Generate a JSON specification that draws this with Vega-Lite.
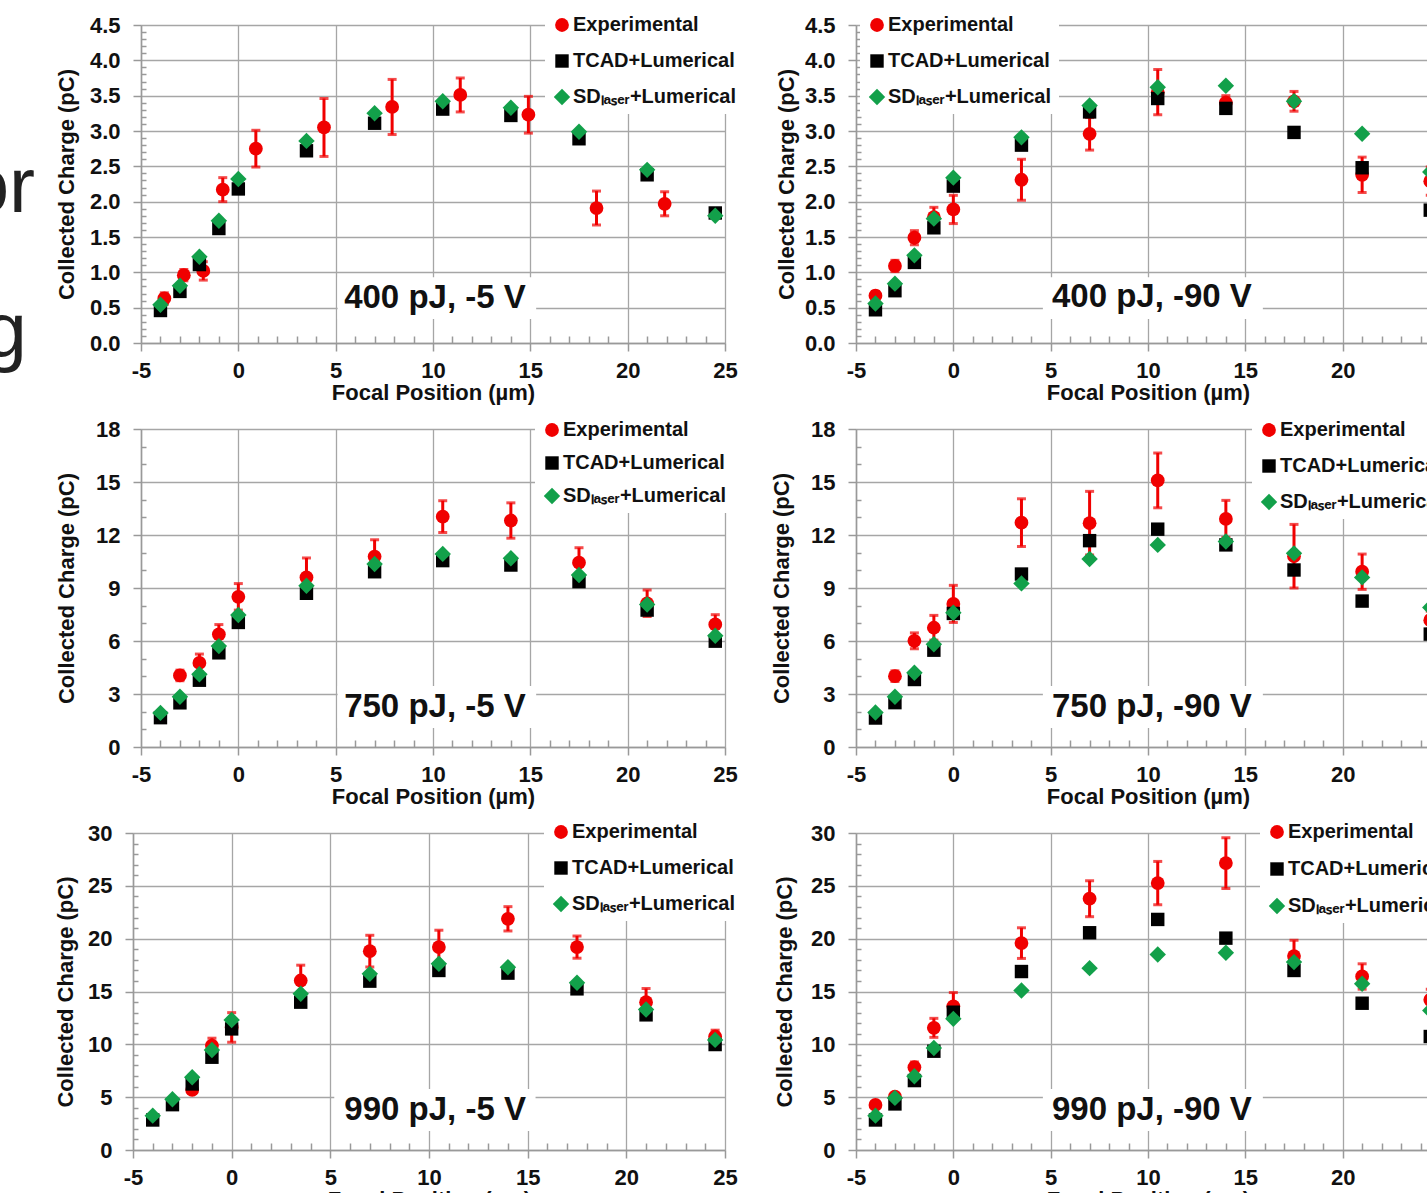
{
"$schema":"https://vega.github.io/schema/vega-lite/v6.json",
"background":"white",
"padding":{"left":-35,"top":8,"right":0,"bottom":0},
"data":{"values":[
{"p":1,"s":"E","x":-3.8,"y":0.63,"e":0.08},{"p":1,"s":"E","x":-2.8,"y":0.96,"e":0.08},{"p":1,"s":"E","x":-1.8,"y":1.02,"e":0.13},{"p":1,"s":"E","x":-0.8,"y":2.17,"e":0.17},{"p":1,"s":"E","x":0.9,"y":2.75,"e":0.26},{"p":1,"s":"E","x":4.4,"y":3.05,"e":0.41},{"p":1,"s":"E","x":7.9,"y":3.34,"e":0.39},{"p":1,"s":"E","x":11.4,"y":3.51,"e":0.24},{"p":1,"s":"E","x":14.9,"y":3.23,"e":0.26},{"p":1,"s":"E","x":18.4,"y":1.91,"e":0.24},{"p":1,"s":"E","x":21.9,"y":1.97,"e":0.17},
{"p":1,"s":"T","x":-4,"y":0.46},{"p":1,"s":"T","x":-3,"y":0.73},{"p":1,"s":"T","x":-2,"y":1.11},{"p":1,"s":"T","x":-1,"y":1.62},{"p":1,"s":"T","x":0,"y":2.18},{"p":1,"s":"T","x":3.5,"y":2.72},{"p":1,"s":"T","x":7,"y":3.11},{"p":1,"s":"T","x":10.5,"y":3.31},{"p":1,"s":"T","x":14,"y":3.22},{"p":1,"s":"T","x":17.5,"y":2.89},{"p":1,"s":"T","x":21,"y":2.38},{"p":1,"s":"T","x":24.5,"y":1.84},
{"p":1,"s":"S","x":-4,"y":0.54},{"p":1,"s":"S","x":-3,"y":0.81},{"p":1,"s":"S","x":-2,"y":1.22},{"p":1,"s":"S","x":-1,"y":1.73},{"p":1,"s":"S","x":0,"y":2.32},{"p":1,"s":"S","x":3.5,"y":2.86},{"p":1,"s":"S","x":7,"y":3.25},{"p":1,"s":"S","x":10.5,"y":3.42},{"p":1,"s":"S","x":14,"y":3.33},{"p":1,"s":"S","x":17.5,"y":2.99},{"p":1,"s":"S","x":21,"y":2.45},{"p":1,"s":"S","x":24.5,"y":1.8},
{"p":2,"s":"E","x":-4,"y":0.67,"e":0.06},{"p":2,"s":"E","x":-3,"y":1.09,"e":0.08},{"p":2,"s":"E","x":-2,"y":1.49,"e":0.1},{"p":2,"s":"E","x":-1,"y":1.78,"e":0.14},{"p":2,"s":"E","x":0,"y":1.89,"e":0.2},{"p":2,"s":"E","x":3.5,"y":2.31,"e":0.29},{"p":2,"s":"E","x":7,"y":2.96,"e":0.23},{"p":2,"s":"E","x":10.5,"y":3.55,"e":0.32},{"p":2,"s":"E","x":14,"y":3.4,"e":0.1},{"p":2,"s":"E","x":17.5,"y":3.42,"e":0.14},{"p":2,"s":"E","x":21,"y":2.38,"e":0.25},{"p":2,"s":"E","x":24.5,"y":2.29,"e":0.2},
{"p":2,"s":"T","x":-4,"y":0.47},{"p":2,"s":"T","x":-3,"y":0.74},{"p":2,"s":"T","x":-2,"y":1.14},{"p":2,"s":"T","x":-1,"y":1.63},{"p":2,"s":"T","x":0,"y":2.22},{"p":2,"s":"T","x":3.5,"y":2.8},{"p":2,"s":"T","x":7,"y":3.27},{"p":2,"s":"T","x":10.5,"y":3.46},{"p":2,"s":"T","x":14,"y":3.32},{"p":2,"s":"T","x":17.5,"y":2.98},{"p":2,"s":"T","x":21,"y":2.48},{"p":2,"s":"T","x":24.5,"y":1.88},
{"p":2,"s":"S","x":-4,"y":0.56},{"p":2,"s":"S","x":-3,"y":0.84},{"p":2,"s":"S","x":-2,"y":1.24},{"p":2,"s":"S","x":-1,"y":1.76},{"p":2,"s":"S","x":0,"y":2.34},{"p":2,"s":"S","x":3.5,"y":2.91},{"p":2,"s":"S","x":7,"y":3.36},{"p":2,"s":"S","x":10.5,"y":3.62},{"p":2,"s":"S","x":14,"y":3.64},{"p":2,"s":"S","x":17.5,"y":3.42},{"p":2,"s":"S","x":21,"y":2.96},{"p":2,"s":"S","x":24.5,"y":2.42},
{"p":3,"s":"E","x":-3,"y":4.05,"e":0.3},{"p":3,"s":"E","x":-2,"y":4.76,"e":0.5},{"p":3,"s":"E","x":-1,"y":6.38,"e":0.55},{"p":3,"s":"E","x":0,"y":8.5,"e":0.75},{"p":3,"s":"E","x":3.5,"y":9.6,"e":1.1},{"p":3,"s":"E","x":7,"y":10.78,"e":0.95},{"p":3,"s":"E","x":10.5,"y":13.04,"e":0.9},{"p":3,"s":"E","x":14,"y":12.82,"e":1.0},{"p":3,"s":"E","x":17.5,"y":10.43,"e":0.85},{"p":3,"s":"E","x":21,"y":8.13,"e":0.75},{"p":3,"s":"E","x":24.5,"y":6.94,"e":0.55},
{"p":3,"s":"T","x":-4,"y":1.66},{"p":3,"s":"T","x":-3,"y":2.5},{"p":3,"s":"T","x":-2,"y":3.78},{"p":3,"s":"T","x":-1,"y":5.33},{"p":3,"s":"T","x":0,"y":7.05},{"p":3,"s":"T","x":3.5,"y":8.7},{"p":3,"s":"T","x":7,"y":9.92},{"p":3,"s":"T","x":10.5,"y":10.55},{"p":3,"s":"T","x":14,"y":10.3},{"p":3,"s":"T","x":17.5,"y":9.36},{"p":3,"s":"T","x":21,"y":7.75},{"p":3,"s":"T","x":24.5,"y":5.99},
{"p":3,"s":"S","x":-4,"y":1.93},{"p":3,"s":"S","x":-3,"y":2.84},{"p":3,"s":"S","x":-2,"y":4.12},{"p":3,"s":"S","x":-1,"y":5.71},{"p":3,"s":"S","x":0,"y":7.47},{"p":3,"s":"S","x":3.5,"y":9.13},{"p":3,"s":"S","x":7,"y":10.36},{"p":3,"s":"S","x":10.5,"y":10.93},{"p":3,"s":"S","x":14,"y":10.68},{"p":3,"s":"S","x":17.5,"y":9.74},{"p":3,"s":"S","x":21,"y":8.07},{"p":3,"s":"S","x":24.5,"y":6.3},
{"p":4,"s":"E","x":-3,"y":4.01,"e":0.3},{"p":4,"s":"E","x":-2,"y":6.01,"e":0.45},{"p":4,"s":"E","x":-1,"y":6.75,"e":0.7},{"p":4,"s":"E","x":0,"y":8.1,"e":1.05},{"p":4,"s":"E","x":3.5,"y":12.7,"e":1.35},{"p":4,"s":"E","x":7,"y":12.67,"e":1.8},{"p":4,"s":"E","x":10.5,"y":15.09,"e":1.55},{"p":4,"s":"E","x":14,"y":12.91,"e":1.05},{"p":4,"s":"E","x":17.5,"y":10.8,"e":1.8},{"p":4,"s":"E","x":21,"y":9.92,"e":1.0},{"p":4,"s":"E","x":24.5,"y":7.18,"e":0.5},
{"p":4,"s":"T","x":-4,"y":1.64},{"p":4,"s":"T","x":-3,"y":2.51},{"p":4,"s":"T","x":-2,"y":3.82},{"p":4,"s":"T","x":-1,"y":5.48},{"p":4,"s":"T","x":0,"y":7.56},{"p":4,"s":"T","x":3.5,"y":9.79},{"p":4,"s":"T","x":7,"y":11.68},{"p":4,"s":"T","x":10.5,"y":12.33},{"p":4,"s":"T","x":14,"y":11.44},{"p":4,"s":"T","x":17.5,"y":10.02},{"p":4,"s":"T","x":21,"y":8.26},{"p":4,"s":"T","x":24.5,"y":6.39},
{"p":4,"s":"S","x":-4,"y":1.95},{"p":4,"s":"S","x":-3,"y":2.84},{"p":4,"s":"S","x":-2,"y":4.2},{"p":4,"s":"S","x":-1,"y":5.82},{"p":4,"s":"S","x":0,"y":7.6},{"p":4,"s":"S","x":3.5,"y":9.26},{"p":4,"s":"S","x":7,"y":10.64},{"p":4,"s":"S","x":10.5,"y":11.44},{"p":4,"s":"S","x":14,"y":11.63},{"p":4,"s":"S","x":17.5,"y":10.96},{"p":4,"s":"S","x":21,"y":9.6},{"p":4,"s":"S","x":24.5,"y":7.9},
{"p":5,"s":"E","x":-2,"y":5.68,"e":0.3},{"p":5,"s":"E","x":-1,"y":9.88,"e":0.7},{"p":5,"s":"E","x":0,"y":11.6,"e":1.4},{"p":5,"s":"E","x":3.5,"y":16.04,"e":1.45},{"p":5,"s":"E","x":7,"y":18.82,"e":1.5},{"p":5,"s":"E","x":10.5,"y":19.2,"e":1.6},{"p":5,"s":"E","x":14,"y":21.88,"e":1.15},{"p":5,"s":"E","x":17.5,"y":19.2,"e":1.05},{"p":5,"s":"E","x":21,"y":13.99,"e":1.3},{"p":5,"s":"E","x":24.5,"y":10.74,"e":0.6},
{"p":5,"s":"T","x":-4,"y":2.84},{"p":5,"s":"T","x":-3,"y":4.29},{"p":5,"s":"T","x":-2,"y":6.25},{"p":5,"s":"T","x":-1,"y":8.78},{"p":5,"s":"T","x":0,"y":11.46},{"p":5,"s":"T","x":3.5,"y":13.99},{"p":5,"s":"T","x":7,"y":15.98},{"p":5,"s":"T","x":10.5,"y":16.99},{"p":5,"s":"T","x":14,"y":16.74},{"p":5,"s":"T","x":17.5,"y":15.25},{"p":5,"s":"T","x":21,"y":12.79},{"p":5,"s":"T","x":24.5,"y":9.98},
{"p":5,"s":"S","x":-4,"y":3.25},{"p":5,"s":"S","x":-3,"y":4.8},{"p":5,"s":"S","x":-2,"y":6.88},{"p":5,"s":"S","x":-1,"y":9.47},{"p":5,"s":"S","x":0,"y":12.31},{"p":5,"s":"S","x":3.5,"y":14.78},{"p":5,"s":"S","x":7,"y":16.67},{"p":5,"s":"S","x":10.5,"y":17.62},{"p":5,"s":"S","x":14,"y":17.3},{"p":5,"s":"S","x":17.5,"y":15.82},{"p":5,"s":"S","x":21,"y":13.29},{"p":5,"s":"S","x":24.5,"y":10.42},
{"p":6,"s":"E","x":-4,"y":4.26,"e":0.3},{"p":6,"s":"E","x":-3,"y":5.05,"e":0.3},{"p":6,"s":"E","x":-2,"y":7.83,"e":0.5},{"p":6,"s":"E","x":-1,"y":11.56,"e":0.9},{"p":6,"s":"E","x":0,"y":13.6,"e":1.3},{"p":6,"s":"E","x":3.5,"y":19.58,"e":1.45},{"p":6,"s":"E","x":7,"y":23.78,"e":1.7},{"p":6,"s":"E","x":10.5,"y":25.26,"e":2.05},{"p":6,"s":"E","x":14,"y":27.15,"e":2.4},{"p":6,"s":"E","x":17.5,"y":18.35,"e":1.5},{"p":6,"s":"E","x":21,"y":16.42,"e":1.2},{"p":6,"s":"E","x":24.5,"y":14.21,"e":1.0},
{"p":6,"s":"T","x":-4,"y":2.84},{"p":6,"s":"T","x":-3,"y":4.36},{"p":6,"s":"T","x":-2,"y":6.57},{"p":6,"s":"T","x":-1,"y":9.35},{"p":6,"s":"T","x":0,"y":13.04},{"p":6,"s":"T","x":3.5,"y":16.89},{"p":6,"s":"T","x":7,"y":20.56},{"p":6,"s":"T","x":10.5,"y":21.82},{"p":6,"s":"T","x":14,"y":20.05},{"p":6,"s":"T","x":17.5,"y":16.99},{"p":6,"s":"T","x":21,"y":13.89},{"p":6,"s":"T","x":24.5,"y":10.74},
{"p":6,"s":"S","x":-4,"y":3.25},{"p":6,"s":"S","x":-3,"y":4.93},{"p":6,"s":"S","x":-2,"y":6.98},{"p":6,"s":"S","x":-1,"y":9.66},{"p":6,"s":"S","x":0,"y":12.41},{"p":6,"s":"S","x":3.5,"y":15.09},{"p":6,"s":"S","x":7,"y":17.21},{"p":6,"s":"S","x":10.5,"y":18.5},{"p":6,"s":"S","x":14,"y":18.66},{"p":6,"s":"S","x":17.5,"y":17.78},{"p":6,"s":"S","x":21,"y":15.73},{"p":6,"s":"S","x":24.5,"y":13.2}
]},
"columns":2,
"spacing":{"row":86,"column":131},
"bounds":"flush",
"align":"all",
"concat":[
{
"width":592,"height":318,
"layer":[
{"transform":[{"filter":"datum.p == 1"}],"mark":{"type":"point","opacity":0},"encoding":{
"x":{"field":"x","type":"quantitative","scale":{"domain":[-5,25],"range":[8,592],"nice":false,"zero":false},"axis":{"orient":"bottom","values":[-4,-3,-2,-1,1,2,3,4,6,7,8,9,11,12,13,14,16,17,18,19,21,22,23,24],"labels":false,"domain":false,"grid":false,"tickSize":-7,"title":null}},
"y":{"field":"y","type":"quantitative","scale":{"domain":[0,4.5],"nice":false,"zero":false},"axis":{"orient":"left","offset":-8,"values":[0.1,0.2,0.3,0.4,0.6,0.7,0.8,0.9,1.1,1.2,1.3,1.4,1.6,1.7,1.8,1.9,2.1,2.2,2.3,2.4,2.6,2.7,2.8,2.9,3.1,3.2,3.3,3.4,3.6,3.7,3.8,3.9,4.1,4.2,4.3,4.4],"labels":false,"domain":false,"grid":false,"tickSize":-5,"title":null}}}},
{"data":{"values":[{}]},"mark":{"type":"rect","fill":"white"},"encoding":{"x":{"datum":5.1,"type":"quantitative","scale":{"domain":[-5,25],"range":[8,592],"nice":false,"zero":false},"axis":null},"x2":{"datum":15.3},"y":{"datum":0.34,"type":"quantitative","scale":{"domain":[0,4.5],"nice":false,"zero":false},"axis":null},"y2":{"datum":0.93}}},
{"data":{"values":[{}]},"mark":{"type":"text","text":"400 pJ, -5 V","font":"Liberation Sans","fontSize":33,"fontWeight":"bold","color":"#111111","align":"center","baseline":"middle"},"encoding":{"x":{"datum":10.1,"type":"quantitative","scale":{"domain":[-5,25],"range":[8,592],"nice":false,"zero":false},"axis":null},"y":{"datum":0.64,"type":"quantitative","scale":{"domain":[0,4.5],"nice":false,"zero":false},"axis":null}}},
{"data":{"values":[{}]},"mark":{"type":"text","text":"or","font":"Liberation Sans","fontSize":78,"color":"#222222","align":"right","baseline":"alphabetic"},"encoding":{"x":{"datum":-10.44,"type":"quantitative","scale":{"domain":[-5,25],"range":[8,592],"nice":false,"zero":false},"axis":null},"y":{"datum":1.854,"type":"quantitative","scale":{"domain":[0,4.5],"nice":false,"zero":false},"axis":null}}},
{"data":{"values":[{}]},"mark":{"type":"text","text":"g","font":"Liberation Sans","fontSize":78,"color":"#222222","align":"right","baseline":"alphabetic"},"encoding":{"x":{"datum":-10.86,"type":"quantitative","scale":{"domain":[-5,25],"range":[8,592],"nice":false,"zero":false},"axis":null},"y":{"datum":-0.198,"type":"quantitative","scale":{"domain":[0,4.5],"nice":false,"zero":false},"axis":null}}},
{"transform":[{"filter":"datum.p == 1 && isValid(datum.e)"}],"mark":{"type":"errorbar","ticks":{"size":9,"thickness":3,"color":"#f00000"},"rule":{"strokeWidth":3,"color":"#f00000"}},"encoding":{"x":{"field":"x","type":"quantitative","scale":{"domain":[-5,25],"range":[8,592],"nice":false,"zero":false},"axis":null},"y":{"field":"y","type":"quantitative","scale":{"domain":[0,4.5],"nice":false,"zero":false},"axis":null},"yError":{"field":"e"}}},
{"transform":[{"filter":"datum.p == 1"}],"mark":{"type":"point","filled":true,"opacity":1,"strokeWidth":0},"encoding":{
"x":{"field":"x","type":"quantitative","scale":{"domain":[-5,25],"range":[8,592],"nice":false,"zero":false},"axis":{"orient":"bottom","values":[-5,0,5,10,15,20,25],"labelExpr":"'' + datum.value","grid":true,"tickSize":8,"labelPadding":9,"title":"Focal Position (µm)","titleY":49,"titleBaseline":"middle"}},
"y":{"field":"y","type":"quantitative","scale":{"domain":[0,4.5],"nice":false,"zero":false},"axis":{"orient":"left","offset":-8,"values":[0,0.5,1,1.5,2,2.5,3,3.5,4,4.5],"format":".1f","grid":true,"tickSize":8,"labelPadding":13,"title":"Collected Charge (pC)","titleX":-75,"titleBaseline":"middle"}},
"color":{"field":"s","type":"nominal","scale":{"domain":["E","T","S"],"range":["#f00000","#000000","#12a04a"]},"legend":{"orient":"none","legendX":412,"legendY":-17,"title":null,"rowPadding":16,"labelExpr":"datum.label == 'E' ? 'Experimental' : datum.label == 'T' ? 'TCAD+Lumerical' : 'SDₗₐₛₑᵣ+Lumerical'"}},
"shape":{"field":"s","type":"nominal","scale":{"domain":["E","T","S"],"range":["circle","square","diamond"]},"legend":{"orient":"none","legendX":412,"legendY":-17,"title":null,"rowPadding":16,"labelExpr":"datum.label == 'E' ? 'Experimental' : datum.label == 'T' ? 'TCAD+Lumerical' : 'SDₗₐₛₑᵣ+Lumerical'"}},
"size":{"field":"s","type":"nominal","scale":{"type":"ordinal","domain":["E","T","S"],"range":[190,180,270]},"legend":null}}}
],
"resolve":{"axis":{"x":"independent","y":"independent"}}
},
{
"width":584,"height":318,
"layer":[
{"transform":[{"filter":"datum.p == 2"}],"mark":{"type":"point","opacity":0},"encoding":{
"x":{"field":"x","type":"quantitative","scale":{"domain":[-5,25],"nice":false,"zero":false},"axis":{"orient":"bottom","values":[-4,-3,-2,-1,1,2,3,4,6,7,8,9,11,12,13,14,16,17,18,19,21,22,23,24],"labels":false,"domain":false,"grid":false,"tickSize":-7,"title":null}},
"y":{"field":"y","type":"quantitative","scale":{"domain":[0,4.5],"nice":false,"zero":false},"axis":{"orient":"left","values":[0.1,0.2,0.3,0.4,0.6,0.7,0.8,0.9,1.1,1.2,1.3,1.4,1.6,1.7,1.8,1.9,2.1,2.2,2.3,2.4,2.6,2.7,2.8,2.9,3.1,3.2,3.3,3.4,3.6,3.7,3.8,3.9,4.1,4.2,4.3,4.4],"labels":false,"domain":false,"grid":false,"tickSize":-5,"title":null}}}},
{"data":{"values":[{}]},"mark":{"type":"rect","fill":"white"},"encoding":{"x":{"datum":4.6,"type":"quantitative","scale":{"domain":[-5,25],"nice":false,"zero":false},"axis":null},"x2":{"datum":15.9},"y":{"datum":0.34,"type":"quantitative","scale":{"domain":[0,4.5],"nice":false,"zero":false},"axis":null},"y2":{"datum":0.93}}},
{"data":{"values":[{}]},"mark":{"type":"text","text":"400 pJ, -90 V","font":"Liberation Sans","fontSize":33,"fontWeight":"bold","color":"#111111","align":"center","baseline":"middle"},"encoding":{"x":{"datum":10.2,"type":"quantitative","scale":{"domain":[-5,25],"nice":false,"zero":false},"axis":null},"y":{"datum":0.65,"type":"quantitative","scale":{"domain":[0,4.5],"nice":false,"zero":false},"axis":null}}},
{"transform":[{"filter":"datum.p == 2 && isValid(datum.e)"}],"mark":{"type":"errorbar","ticks":{"size":9,"thickness":3,"color":"#f00000"},"rule":{"strokeWidth":3,"color":"#f00000"}},"encoding":{"x":{"field":"x","type":"quantitative","scale":{"domain":[-5,25],"nice":false,"zero":false},"axis":null},"y":{"field":"y","type":"quantitative","scale":{"domain":[0,4.5],"nice":false,"zero":false},"axis":null},"yError":{"field":"e"}}},
{"transform":[{"filter":"datum.p == 2"}],"mark":{"type":"point","filled":true,"opacity":1,"strokeWidth":0},"encoding":{
"x":{"field":"x","type":"quantitative","scale":{"domain":[-5,25],"nice":false,"zero":false},"axis":{"orient":"bottom","values":[-5,0,5,10,15,20,25],"labelExpr":"'' + datum.value","grid":true,"tickSize":8,"labelPadding":9,"title":"Focal Position (µm)","titleY":49,"titleBaseline":"middle"}},
"y":{"field":"y","type":"quantitative","scale":{"domain":[0,4.5],"nice":false,"zero":false},"axis":{"orient":"left","values":[0,0.5,1,1.5,2,2.5,3,3.5,4,4.5],"format":".1f","grid":true,"tickSize":8,"labelPadding":13,"title":"Collected Charge (pC)","titleX":-70,"titleBaseline":"middle"}},
"color":{"field":"s","type":"nominal","scale":{"domain":["E","T","S"],"range":["#f00000","#000000","#12a04a"]},"legend":{"orient":"none","legendX":4,"legendY":-17,"title":null,"rowPadding":16,"labelExpr":"datum.label == 'E' ? 'Experimental' : datum.label == 'T' ? 'TCAD+Lumerical' : 'SDₗₐₛₑᵣ+Lumerical'"}},
"shape":{"field":"s","type":"nominal","scale":{"domain":["E","T","S"],"range":["circle","square","diamond"]},"legend":{"orient":"none","legendX":4,"legendY":-17,"title":null,"rowPadding":16,"labelExpr":"datum.label == 'E' ? 'Experimental' : datum.label == 'T' ? 'TCAD+Lumerical' : 'SDₗₐₛₑᵣ+Lumerical'"}},
"size":{"field":"s","type":"nominal","scale":{"type":"ordinal","domain":["E","T","S"],"range":[190,180,270]},"legend":null}}}
],
"resolve":{"axis":{"x":"independent","y":"independent"}}
},
{
"width":592,"height":318,
"layer":[
{"transform":[{"filter":"datum.p == 3"}],"mark":{"type":"point","opacity":0},"encoding":{
"x":{"field":"x","type":"quantitative","scale":{"domain":[-5,25],"range":[8,592],"nice":false,"zero":false},"axis":{"orient":"bottom","values":[-4,-3,-2,-1,1,2,3,4,6,7,8,9,11,12,13,14,16,17,18,19,21,22,23,24],"labels":false,"domain":false,"grid":false,"tickSize":-7,"title":null}},
"y":{"field":"y","type":"quantitative","scale":{"domain":[0,18],"nice":false,"zero":false},"axis":{"orient":"left","offset":-8,"values":[1,2,4,5,7,8,10,11,13,14,16,17],"labels":false,"domain":false,"grid":false,"tickSize":-5,"title":null}}}},
{"data":{"values":[{}]},"mark":{"type":"rect","fill":"white"},"encoding":{"x":{"datum":5.1,"type":"quantitative","scale":{"domain":[-5,25],"range":[8,592],"nice":false,"zero":false},"axis":null},"x2":{"datum":15.3},"y":{"datum":1.08,"type":"quantitative","scale":{"domain":[0,18],"nice":false,"zero":false},"axis":null},"y2":{"datum":3.45}}},
{"data":{"values":[{}]},"mark":{"type":"text","text":"750 pJ, -5 V","font":"Liberation Sans","fontSize":33,"fontWeight":"bold","color":"#111111","align":"center","baseline":"middle"},"encoding":{"x":{"datum":10.1,"type":"quantitative","scale":{"domain":[-5,25],"range":[8,592],"nice":false,"zero":false},"axis":null},"y":{"datum":2.26,"type":"quantitative","scale":{"domain":[0,18],"nice":false,"zero":false},"axis":null}}},
{"transform":[{"filter":"datum.p == 3 && isValid(datum.e)"}],"mark":{"type":"errorbar","ticks":{"size":9,"thickness":3,"color":"#f00000"},"rule":{"strokeWidth":3,"color":"#f00000"}},"encoding":{"x":{"field":"x","type":"quantitative","scale":{"domain":[-5,25],"range":[8,592],"nice":false,"zero":false},"axis":null},"y":{"field":"y","type":"quantitative","scale":{"domain":[0,18],"nice":false,"zero":false},"axis":null},"yError":{"field":"e"}}},
{"transform":[{"filter":"datum.p == 3"}],"mark":{"type":"point","filled":true,"opacity":1,"strokeWidth":0},"encoding":{
"x":{"field":"x","type":"quantitative","scale":{"domain":[-5,25],"range":[8,592],"nice":false,"zero":false},"axis":{"orient":"bottom","values":[-5,0,5,10,15,20,25],"labelExpr":"'' + datum.value","grid":true,"tickSize":8,"labelPadding":9,"title":"Focal Position (µm)","titleY":49,"titleBaseline":"middle"}},
"y":{"field":"y","type":"quantitative","scale":{"domain":[0,18],"nice":false,"zero":false},"axis":{"orient":"left","offset":-8,"values":[0,3,6,9,12,15,18],"format":"d","grid":true,"tickSize":8,"labelPadding":13,"title":"Collected Charge (pC)","titleX":-75,"titleBaseline":"middle"}},
"color":{"field":"s","type":"nominal","scale":{"domain":["E","T","S"],"range":["#f00000","#000000","#12a04a"]},"legend":{"orient":"none","legendX":402,"legendY":-16,"title":null,"rowPadding":13,"labelExpr":"datum.label == 'E' ? 'Experimental' : datum.label == 'T' ? 'TCAD+Lumerical' : 'SDₗₐₛₑᵣ+Lumerical'"}},
"shape":{"field":"s","type":"nominal","scale":{"domain":["E","T","S"],"range":["circle","square","diamond"]},"legend":{"orient":"none","legendX":402,"legendY":-16,"title":null,"rowPadding":13,"labelExpr":"datum.label == 'E' ? 'Experimental' : datum.label == 'T' ? 'TCAD+Lumerical' : 'SDₗₐₛₑᵣ+Lumerical'"}},
"size":{"field":"s","type":"nominal","scale":{"type":"ordinal","domain":["E","T","S"],"range":[190,180,270]},"legend":null}}}
],
"resolve":{"axis":{"x":"independent","y":"independent"}}
},
{
"width":584,"height":318,
"layer":[
{"transform":[{"filter":"datum.p == 4"}],"mark":{"type":"point","opacity":0},"encoding":{
"x":{"field":"x","type":"quantitative","scale":{"domain":[-5,25],"nice":false,"zero":false},"axis":{"orient":"bottom","values":[-4,-3,-2,-1,1,2,3,4,6,7,8,9,11,12,13,14,16,17,18,19,21,22,23,24],"labels":false,"domain":false,"grid":false,"tickSize":-7,"title":null}},
"y":{"field":"y","type":"quantitative","scale":{"domain":[0,18],"nice":false,"zero":false},"axis":{"orient":"left","values":[1,2,4,5,7,8,10,11,13,14,16,17],"labels":false,"domain":false,"grid":false,"tickSize":-5,"title":null}}}},
{"data":{"values":[{}]},"mark":{"type":"rect","fill":"white"},"encoding":{"x":{"datum":4.6,"type":"quantitative","scale":{"domain":[-5,25],"nice":false,"zero":false},"axis":null},"x2":{"datum":15.9},"y":{"datum":1.08,"type":"quantitative","scale":{"domain":[0,18],"nice":false,"zero":false},"axis":null},"y2":{"datum":3.45}}},
{"data":{"values":[{}]},"mark":{"type":"text","text":"750 pJ, -90 V","font":"Liberation Sans","fontSize":33,"fontWeight":"bold","color":"#111111","align":"center","baseline":"middle"},"encoding":{"x":{"datum":10.2,"type":"quantitative","scale":{"domain":[-5,25],"nice":false,"zero":false},"axis":null},"y":{"datum":2.26,"type":"quantitative","scale":{"domain":[0,18],"nice":false,"zero":false},"axis":null}}},
{"transform":[{"filter":"datum.p == 4 && isValid(datum.e)"}],"mark":{"type":"errorbar","ticks":{"size":9,"thickness":3,"color":"#f00000"},"rule":{"strokeWidth":3,"color":"#f00000"}},"encoding":{"x":{"field":"x","type":"quantitative","scale":{"domain":[-5,25],"nice":false,"zero":false},"axis":null},"y":{"field":"y","type":"quantitative","scale":{"domain":[0,18],"nice":false,"zero":false},"axis":null},"yError":{"field":"e"}}},
{"transform":[{"filter":"datum.p == 4"}],"mark":{"type":"point","filled":true,"opacity":1,"strokeWidth":0},"encoding":{
"x":{"field":"x","type":"quantitative","scale":{"domain":[-5,25],"nice":false,"zero":false},"axis":{"orient":"bottom","values":[-5,0,5,10,15,20,25],"labelExpr":"'' + datum.value","grid":true,"tickSize":8,"labelPadding":9,"title":"Focal Position (µm)","titleY":49,"titleBaseline":"middle"}},
"y":{"field":"y","type":"quantitative","scale":{"domain":[0,18],"nice":false,"zero":false},"axis":{"orient":"left","values":[0,3,6,9,12,15,18],"format":"d","grid":true,"tickSize":8,"labelPadding":13,"title":"Collected Charge (pC)","titleX":-75,"titleBaseline":"middle"}},
"color":{"field":"s","type":"nominal","scale":{"domain":["E","T","S"],"range":["#f00000","#000000","#12a04a"]},"legend":{"orient":"none","legendX":396,"legendY":-16,"title":null,"rowPadding":16,"labelExpr":"datum.label == 'E' ? 'Experimental' : datum.label == 'T' ? 'TCAD+Lumerical' : 'SDₗₐₛₑᵣ+Lumerical'"}},
"shape":{"field":"s","type":"nominal","scale":{"domain":["E","T","S"],"range":["circle","square","diamond"]},"legend":{"orient":"none","legendX":396,"legendY":-16,"title":null,"rowPadding":16,"labelExpr":"datum.label == 'E' ? 'Experimental' : datum.label == 'T' ? 'TCAD+Lumerical' : 'SDₗₐₛₑᵣ+Lumerical'"}},
"size":{"field":"s","type":"nominal","scale":{"type":"ordinal","domain":["E","T","S"],"range":[190,180,270]},"legend":null}}}
],
"resolve":{"axis":{"x":"independent","y":"independent"}}
},
{
"width":592,"height":317,
"layer":[
{"transform":[{"filter":"datum.p == 5"}],"mark":{"type":"point","opacity":0},"encoding":{
"x":{"field":"x","type":"quantitative","scale":{"domain":[-5,25],"nice":false,"zero":false},"axis":{"orient":"bottom","values":[-4,-3,-2,-1,1,2,3,4,6,7,8,9,11,12,13,14,16,17,18,19,21,22,23,24],"labels":false,"domain":false,"grid":false,"tickSize":-7,"title":null}},
"y":{"field":"y","type":"quantitative","scale":{"domain":[0,30],"nice":false,"zero":false},"axis":{"orient":"left","values":[1,2,3,4,6,7,8,9,11,12,13,14,16,17,18,19,21,22,23,24,26,27,28,29],"labels":false,"domain":false,"grid":false,"tickSize":-5,"title":null}}}},
{"data":{"values":[{}]},"mark":{"type":"rect","fill":"white"},"encoding":{"x":{"datum":5.2,"type":"quantitative","scale":{"domain":[-5,25],"nice":false,"zero":false},"axis":null},"x2":{"datum":15.4},"y":{"datum":1.8,"type":"quantitative","scale":{"domain":[0,30],"nice":false,"zero":false},"axis":null},"y2":{"datum":5.77}}},
{"data":{"values":[{}]},"mark":{"type":"text","text":"990 pJ, -5 V","font":"Liberation Sans","fontSize":33,"fontWeight":"bold","color":"#111111","align":"center","baseline":"middle"},"encoding":{"x":{"datum":10.31,"type":"quantitative","scale":{"domain":[-5,25],"nice":false,"zero":false},"axis":null},"y":{"datum":3.78,"type":"quantitative","scale":{"domain":[0,30],"nice":false,"zero":false},"axis":null}}},
{"transform":[{"filter":"datum.p == 5 && isValid(datum.e)"}],"mark":{"type":"errorbar","ticks":{"size":9,"thickness":3,"color":"#f00000"},"rule":{"strokeWidth":3,"color":"#f00000"}},"encoding":{"x":{"field":"x","type":"quantitative","scale":{"domain":[-5,25],"nice":false,"zero":false},"axis":null},"y":{"field":"y","type":"quantitative","scale":{"domain":[0,30],"nice":false,"zero":false},"axis":null},"yError":{"field":"e"}}},
{"transform":[{"filter":"datum.p == 5"}],"mark":{"type":"point","filled":true,"opacity":1,"strokeWidth":0},"encoding":{
"x":{"field":"x","type":"quantitative","scale":{"domain":[-5,25],"nice":false,"zero":false},"axis":{"orient":"bottom","values":[-5,0,5,10,15,20,25],"labelExpr":"'' + datum.value","grid":true,"tickSize":8,"labelPadding":9,"title":"Focal Position (µm)","titleY":49,"titleBaseline":"middle"}},
"y":{"field":"y","type":"quantitative","scale":{"domain":[0,30],"nice":false,"zero":false},"axis":{"orient":"left","values":[0,5,10,15,20,25,30],"format":"d","grid":true,"tickSize":8,"labelPadding":13,"title":"Collected Charge (pC)","titleX":-68,"titleBaseline":"middle"}},
"color":{"field":"s","type":"nominal","scale":{"domain":["E","T","S"],"range":["#f00000","#000000","#12a04a"]},"legend":{"orient":"none","legendX":411,"legendY":-18,"title":null,"rowPadding":16,"labelExpr":"datum.label == 'E' ? 'Experimental' : datum.label == 'T' ? 'TCAD+Lumerical' : 'SDₗₐₛₑᵣ+Lumerical'"}},
"shape":{"field":"s","type":"nominal","scale":{"domain":["E","T","S"],"range":["circle","square","diamond"]},"legend":{"orient":"none","legendX":411,"legendY":-18,"title":null,"rowPadding":16,"labelExpr":"datum.label == 'E' ? 'Experimental' : datum.label == 'T' ? 'TCAD+Lumerical' : 'SDₗₐₛₑᵣ+Lumerical'"}},
"size":{"field":"s","type":"nominal","scale":{"type":"ordinal","domain":["E","T","S"],"range":[190,180,270]},"legend":null}}}
],
"resolve":{"axis":{"x":"independent","y":"independent"}}
},
{
"width":584,"height":317,
"layer":[
{"transform":[{"filter":"datum.p == 6"}],"mark":{"type":"point","opacity":0},"encoding":{
"x":{"field":"x","type":"quantitative","scale":{"domain":[-5,25],"nice":false,"zero":false},"axis":{"orient":"bottom","values":[-4,-3,-2,-1,1,2,3,4,6,7,8,9,11,12,13,14,16,17,18,19,21,22,23,24],"labels":false,"domain":false,"grid":false,"tickSize":-7,"title":null}},
"y":{"field":"y","type":"quantitative","scale":{"domain":[0,30],"nice":false,"zero":false},"axis":{"orient":"left","values":[1,2,3,4,6,7,8,9,11,12,13,14,16,17,18,19,21,22,23,24,26,27,28,29],"labels":false,"domain":false,"grid":false,"tickSize":-5,"title":null}}}},
{"data":{"values":[{}]},"mark":{"type":"rect","fill":"white"},"encoding":{"x":{"datum":4.6,"type":"quantitative","scale":{"domain":[-5,25],"nice":false,"zero":false},"axis":null},"x2":{"datum":15.9},"y":{"datum":1.8,"type":"quantitative","scale":{"domain":[0,30],"nice":false,"zero":false},"axis":null},"y2":{"datum":5.77}}},
{"data":{"values":[{}]},"mark":{"type":"text","text":"990 pJ, -90 V","font":"Liberation Sans","fontSize":33,"fontWeight":"bold","color":"#111111","align":"center","baseline":"middle"},"encoding":{"x":{"datum":10.2,"type":"quantitative","scale":{"domain":[-5,25],"nice":false,"zero":false},"axis":null},"y":{"datum":3.78,"type":"quantitative","scale":{"domain":[0,30],"nice":false,"zero":false},"axis":null}}},
{"transform":[{"filter":"datum.p == 6 && isValid(datum.e)"}],"mark":{"type":"errorbar","ticks":{"size":9,"thickness":3,"color":"#f00000"},"rule":{"strokeWidth":3,"color":"#f00000"}},"encoding":{"x":{"field":"x","type":"quantitative","scale":{"domain":[-5,25],"nice":false,"zero":false},"axis":null},"y":{"field":"y","type":"quantitative","scale":{"domain":[0,30],"nice":false,"zero":false},"axis":null},"yError":{"field":"e"}}},
{"transform":[{"filter":"datum.p == 6"}],"mark":{"type":"point","filled":true,"opacity":1,"strokeWidth":0},"encoding":{
"x":{"field":"x","type":"quantitative","scale":{"domain":[-5,25],"nice":false,"zero":false},"axis":{"orient":"bottom","values":[-5,0,5,10,15,20,25],"labelExpr":"'' + datum.value","grid":true,"tickSize":8,"labelPadding":9,"title":"Focal Position (µm)","titleY":49,"titleBaseline":"middle"}},
"y":{"field":"y","type":"quantitative","scale":{"domain":[0,30],"nice":false,"zero":false},"axis":{"orient":"left","values":[0,5,10,15,20,25,30],"format":"d","grid":true,"tickSize":8,"labelPadding":13,"title":"Collected Charge (pC)","titleX":-72,"titleBaseline":"middle"}},
"color":{"field":"s","type":"nominal","scale":{"domain":["E","T","S"],"range":["#f00000","#000000","#12a04a"]},"legend":{"orient":"none","legendX":404,"legendY":-18,"title":null,"rowPadding":17,"labelExpr":"datum.label == 'E' ? 'Experimental' : datum.label == 'T' ? 'TCAD+Lumerical' : 'SDₗₐₛₑᵣ+Lumerical'"}},
"shape":{"field":"s","type":"nominal","scale":{"domain":["E","T","S"],"range":["circle","square","diamond"]},"legend":{"orient":"none","legendX":404,"legendY":-18,"title":null,"rowPadding":17,"labelExpr":"datum.label == 'E' ? 'Experimental' : datum.label == 'T' ? 'TCAD+Lumerical' : 'SDₗₐₛₑᵣ+Lumerical'"}},
"size":{"field":"s","type":"nominal","scale":{"type":"ordinal","domain":["E","T","S"],"range":[190,180,270]},"legend":null}}}
],
"resolve":{"axis":{"x":"independent","y":"independent"}}
}
],
"resolve":{"scale":{"color":"independent","shape":"independent","size":"independent"},"legend":{"color":"independent","shape":"independent","size":"independent"}},
"config":{
"view":{"stroke":null},
"axis":{"labelFont":"Liberation Sans","labelFontSize":22,"labelFontWeight":"bold","labelColor":"#111111","titleFont":"Liberation Sans","titleFontSize":22,"titleFontWeight":"bold","titleColor":"#111111","domainColor":"#999999","domainWidth":1.5,"tickColor":"#999999","tickWidth":1.5,"gridColor":"#a6a6a6","gridWidth":1.3,"gridOpacity":1,"labelFlush":false,"labelOverlap":false,"labelBound":false},
"legend":{"labelFont":"Liberation Sans","labelFontSize":20,"labelFontWeight":"bold","labelColor":"#111111","labelLimit":400,"symbolSize":150,"symbolStrokeWidth":0,"labelOffset":1,"padding":7,"fillColor":"white"}
}
}
